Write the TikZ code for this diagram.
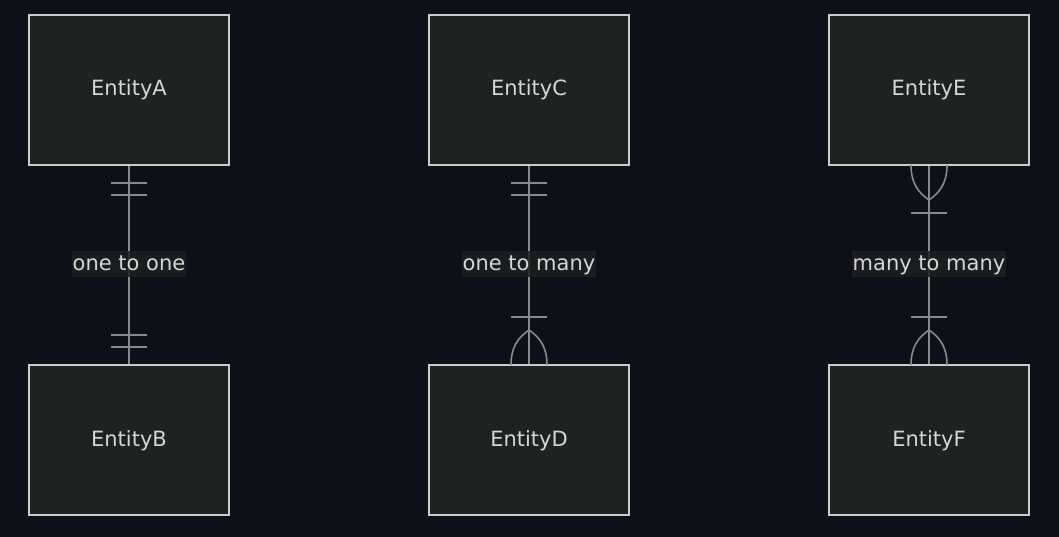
\documentclass[tikz,border=0pt]{standalone}
\usepackage{fontspec}
\setmainfont{DejaVu Sans}
\definecolor{bgc}{HTML}{0D1017}
\definecolor{boxfill}{HTML}{202121}
\definecolor{boxline}{HTML}{CCCCCC}
\definecolor{linec}{HTML}{8A8A8A}
\definecolor{txtc}{HTML}{D6D6D6}
\definecolor{lblbg}{HTML}{1E1F1F}
\tikzset{
  entity/.style={draw=boxline, line width=2pt, fill=boxfill, minimum width=200pt, minimum height=150pt, inner sep=0pt},
  rel/.style={draw=linec, line width=1.6pt},
  lbl/.style={fill=lblbg, fill opacity=0.85, text opacity=1, text=txtc, inner xsep=1pt, inner ysep=3pt, text height=17pt, text depth=3pt, font=\fontsize{21}{24}\selectfont},
  ent/.style={text=txtc, text height=17pt, text depth=3pt, font=\fontsize{21}{24}\selectfont}
}
\begin{document}
\begin{tikzpicture}[x=1pt, y=-1pt]
\useasboundingbox[fill=bgc] (0,0) rectangle (1059,537);
% boxes
\node[entity] (A) at (129,90) {};
\node[entity] (B) at (129,440) {};
\node[entity] (C) at (529,90) {};
\node[entity] (D) at (529,440) {};
\node[entity] (E) at (929,90) {};
\node[entity] (F) at (929,440) {};
\node[ent] (tA) at (129,89) {EntityA};
\node[ent] (tB) at (129,439) {EntityB};
\node[ent] (tC) at (529,89) {EntityC};
\node[ent] (tD) at (529,439) {EntityD};
\node[ent] (tE) at (929,89) {EntityE};
\node[ent] (tF) at (929,439) {EntityF};
% relation lines
\draw[rel] (A.south) -- (B.north);
\draw[rel] (C.south) -- (D.north);
\draw[rel] (E.south) -- (F.north);
% one to one markers
\draw[rel] (111,183) -- (147,183);
\draw[rel] (111,195) -- (147,195);
\draw[rel] (111,335) -- (147,335);
\draw[rel] (111,347) -- (147,347);
% one to many markers
\draw[rel] (511,183) -- (547,183);
\draw[rel] (511,195) -- (547,195);
\draw[rel] (511,317) -- (547,317);
\draw[rel] (529,330) .. controls (519,337) and (511,346) .. (511,365);
\draw[rel] (529,330) .. controls (539,337) and (547,346) .. (547,365);
% many to many markers
\draw[rel] (929,200) .. controls (919,193) and (911,184) .. (911,165);
\draw[rel] (929,200) .. controls (939,193) and (947,184) .. (947,165);
\draw[rel] (911,213) -- (947,213);
\draw[rel] (911,317) -- (947,317);
\draw[rel] (929,330) .. controls (919,337) and (911,346) .. (911,365);
\draw[rel] (929,330) .. controls (939,337) and (947,346) .. (947,365);
% labels
\node[lbl] (l1) at (129,263.5) {one to one};
\node[lbl] (l2) at (529,263.5) {one to many};
\node[lbl] (l3) at (929,263.5) {many to many};
\end{tikzpicture}
\end{document}
